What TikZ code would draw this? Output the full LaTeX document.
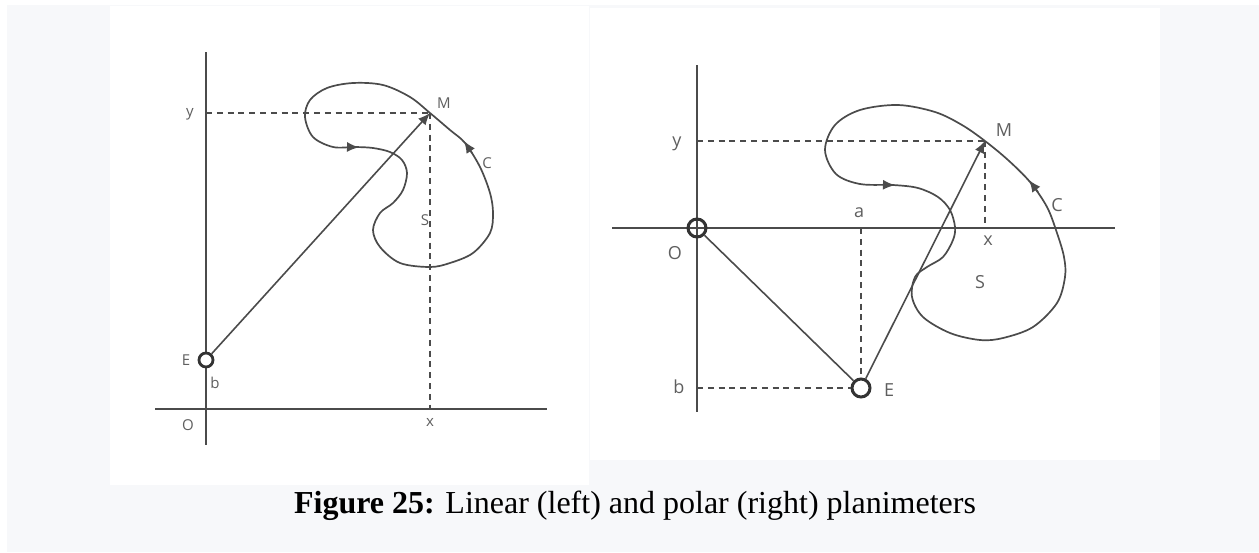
\documentclass[tikz,border=0pt]{standalone}
\usepackage{fontspec}
\setmainfont{Liberation Serif}
\newfontfamily\labelfont{Open Sans}
\usetikzlibrary{arrows.meta, positioning, calc}
\definecolor{pagegray}{RGB}{247,248,250}
\definecolor{inkgray}{RGB}{75,75,75}
\definecolor{labgray}{RGB}{95,95,95}
\tikzset{
  %% Axis line
  axis/.style={draw=inkgray, line width=1pt},
  %% Dashed guide line
  guide/.style={draw=inkgray, dash pattern=on 3pt off 2.4pt, line width=0.75pt},
  %% Planimeter arm
  rod/.style={draw=inkgray, line width=0.8pt},
  %% Arm ending in the tracer point
  arr/.style={-{Latex[length=6pt,width=5pt]},
              draw=inkgray, line width=0.8pt},
  %% Direction mark on the contour
  tip/.style={-{Latex[length=6pt,width=5pt]}, draw=inkgray, line width=0.8pt},
  %% Contour C
  contour/.style={draw=inkgray, line width=0.85pt},
  %% Pivot ring
  pivot/.style={
    circle, draw=black!80, line width=#1,
    inner sep=0pt
  },
  pivot/.default=1.3pt,
  %% Letter label
  lab/.style={font=\labelfont\fontsize{#1}{#1}\selectfont,
              text=labgray, inner sep=0pt},
  lab/.default=7.5pt,
}

\begin{document}
\begin{tikzpicture}[x=0.5pt, y=-0.5pt]
  \useasboundingbox (0,0) rectangle (1259,552);

  %% Page and panels
  \fill[white] (0,0) rectangle (1259,552);
  \fill[pagegray] (7,5) rectangle (1259,552);
  \fill[white] (110,6) rectangle (589,485);
  \fill[white] (590,8) rectangle (1160,460);

  %% ---------- Linear planimeter (left) ----------
  \coordinate (M1) at (430,113);
  \coordinate (O1) at (206,409);
  \draw[axis] (206,52) -- (206,445);
  \draw[axis] (155,409) -- (547,409);
  \node[pivot=1.4pt, minimum size=7pt, fill=white] (E1) at (206,360) {};

  \draw[guide] (206,113) -- (M1);
  \draw[guide] (M1) -- (M1 |- O1);

  \draw[contour] plot[smooth cycle, tension=0.55] coordinates {
    (430,113) (450,130) (465,143) (480,167) (490,193) (493,213)
    (490,233) (473,253) (450,263) (430,267) (400,263) (380,247)
    (373,230) (380,213) (393,203) (403,190) (407,173) (402,160)
    (390,152) (373,148) (355,147) (333,147) (313,137) (305,117)
    (310,100) (327,88) (353,83) (383,85) (410,97)};
  \draw[tip] (348,147) -- (359,147.3);
  \draw[tip] (472,153) -- (464,141);

  \draw[arr] (E1) -- (M1);

  \node[lab] (ly1) at (190,114) {y};
  \node[lab] (lM1) at (444,103) {M};
  \node[lab] (lC1) at (487,163) {C};
  \node[lab] (lS1) at (425,220) {S};
  \node[lab] (lE1) at (186,360) {E};
  \node[lab] (lb1) at (215,383) {b};
  \node[lab] (lO1) at (188,425) {O};
  \node[lab] (lx1) at (430,422) {x};

  %% ---------- Polar planimeter (right) ----------
  \coordinate (M2) at (985,141);
  \draw[axis] (697,65) -- (697,412);
  \draw[axis] (612,228) -- (1115,228);
  \node[pivot=1.5pt, minimum size=9pt] (O2) at (697,228) {};
  \node[pivot=1.5pt, minimum size=9pt, fill=white] (E2) at (861,388) {};

  \draw[guide] (697,141) -- (M2);
  \draw[guide] (M2) -- (M2 |- O2);
  \draw[guide] (E2 |- O2) -- (E2.north);
  \draw[guide] (697,388) -- (E2.west);

  \draw[contour] plot[smooth cycle, tension=0.55] coordinates {
    (985,141) (1008,160) (1030,182) (1047,207) (1057,233) (1064,257)
    (1065,277) (1057,303) (1033,327) (1003,338) (980,340) (950,333)
    (923,317) (912,297) (915,277) (927,267) (943,257) (953,240)
    (955,227) (950,210) (938,197) (918,188) (893,185) (860,184)
    (836,174) (825,150) (835,125) (860,110) (898,105) (935,112)
    (962,125)};
  \draw[tip] (883,184.8) -- (895,185.1);
  \draw[tip] (1038,192) -- (1029,180);

  \draw[rod] (O2) -- (E2);
  \draw[arr] (E2) -- (M2);

  \node[lab=9pt] (ly2) at (677,144) {y};
  \node[lab=9pt] (lO2) at (675,253) {O};
  \node[lab=9pt] (la2) at (859,213) {a};
  \node[lab=9pt] (lb2) at (679,387) {b};
  \node[lab=9pt] (lE2) at (889,390) {E};
  \node[lab=9pt] (lM2) at (1004,130) {M};
  \node[lab=9pt] (lC2) at (1057,205) {C};
  \node[lab=9pt] (lx2) at (988,241) {x};
  \node[lab=9pt] (lS2) at (980,282) {S};

  %% Caption
  \node[anchor=base, inner sep=0pt, font=\fontsize{16pt}{19pt}\selectfont]
       (cap) at (635,513) {\textbf{Figure 25:} Linear (left) and polar (right) planimeters};
\end{tikzpicture}
\end{document}
